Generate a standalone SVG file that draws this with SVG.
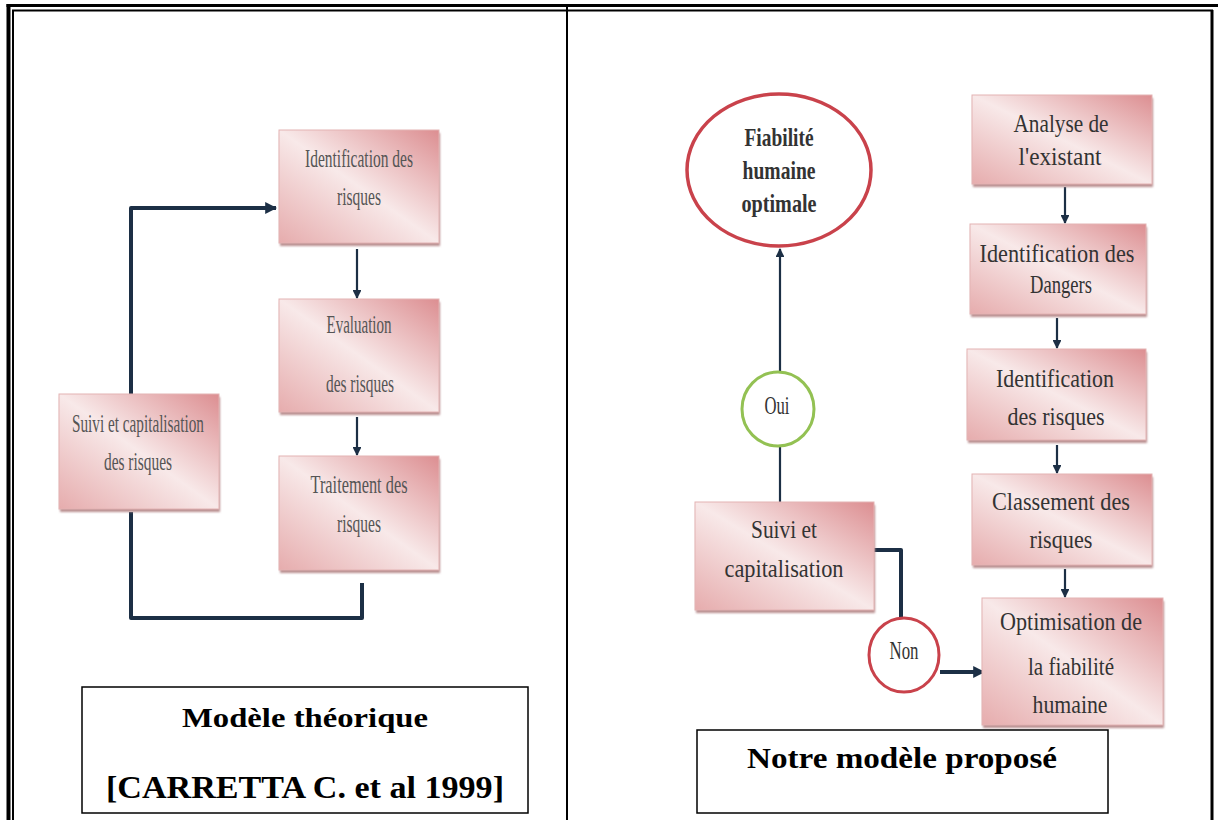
<svg xmlns="http://www.w3.org/2000/svg" width="1218" height="820" viewBox="0 0 1218 820">
<style>
.box{fill:url(#pink);stroke:#e3b3b3;stroke-width:1}
.shadow{fill:#b98f90;filter:url(#blur)}
.lt{font-family:"Liberation Serif",serif;font-size:25px;fill:#555;text-anchor:middle}
.rt{font-family:"Liberation Serif",serif;font-size:26px;fill:#333;text-anchor:middle}
.cap{font-family:"Liberation Serif",serif;font-weight:bold;fill:#000;text-anchor:middle}
.thin{stroke:#1c2f45;stroke-width:2.2;fill:none}
.thick{stroke:#1c2f45;stroke-width:4;fill:none;stroke-linejoin:round}
.frame{stroke:#000;fill:none}
</style>
<defs>
<linearGradient id="pink" x1="1" y1="0" x2="0" y2="1">
<stop offset="0" stop-color="#dc8e91"/>
<stop offset="0.5" stop-color="#f8e9e9"/>
<stop offset="1" stop-color="#e6acad"/>
</linearGradient>
<filter id="blur" x="-10%" y="-10%" width="120%" height="130%"><feGaussianBlur stdDeviation="1.2"/></filter>
<marker id="ah" viewBox="0 0 10 10" refX="9" refY="5" markerWidth="4" markerHeight="4" orient="auto" markerUnits="strokeWidth">
<path d="M0,0 L10,5 L0,10 z" fill="#1c2f45"/>
</marker>
<marker id="ahk" viewBox="0 0 10 10" refX="9" refY="5" markerWidth="3" markerHeight="3" orient="auto" markerUnits="strokeWidth">
<path d="M0,0 L10,5 L0,10 z" fill="#1c2f45"/>
</marker>
</defs>
<rect width="1218" height="820" fill="#fff"/>
<g id="frame">
<line class="frame" x1="8.5" y1="4" x2="8.5" y2="820" stroke-width="4"/>
<line class="frame" x1="6.5" y1="5.5" x2="1218" y2="5.5" stroke-width="3"/>
<line class="frame" x1="13" y1="10" x2="13" y2="820" stroke-width="2"/>
<line class="frame" x1="12" y1="10.5" x2="1213" y2="10.5" stroke-width="2"/>
<line class="frame" x1="1212" y1="10" x2="1212" y2="820" stroke-width="3"/>
<line class="frame" x1="567" y1="5" x2="567" y2="820" stroke-width="2"/>
</g>
<g id="connectors">
<path class="thick" d="M131,394 V208 H276" marker-end="url(#ahk)"/>
<path class="thick" d="M131,512 V618 H362 V583"/>
<line class="thin" x1="357" y1="249" x2="357" y2="298" marker-end="url(#ah)"/>
<line class="thin" x1="357" y1="417" x2="357" y2="455" marker-end="url(#ah)"/>
<line class="thin" x1="780" y1="372" x2="780" y2="249" marker-end="url(#ah)"/>
<line class="thin" x1="780" y1="446" x2="780" y2="502"/>
<path class="thick" d="M874,550 H901 V618"/>
<line class="thick" x1="940" y1="672" x2="984" y2="672" marker-end="url(#ahk)"/>
<line class="thin" x1="1065" y1="187" x2="1065" y2="223" marker-end="url(#ah)"/>
<line class="thin" x1="1057" y1="318" x2="1057" y2="348" marker-end="url(#ah)"/>
<line class="thin" x1="1057" y1="445" x2="1057" y2="473" marker-end="url(#ah)"/>
<line class="thin" x1="1065" y1="569" x2="1065" y2="597" marker-end="url(#ah)"/>
</g>
<g id="n-ident-l">
<rect class="shadow" x="280" y="133" width="160" height="113"/>
<rect class="box" x="279" y="130" width="160" height="113"/>
<text class="lt" x="359" y="167" textLength="108" lengthAdjust="spacingAndGlyphs">Identification des</text>
<text class="lt" x="359" y="205" textLength="44" lengthAdjust="spacingAndGlyphs">risques</text>
</g>
<g id="n-eval-l">
<rect class="shadow" x="280" y="302" width="160" height="113"/>
<rect class="box" x="279" y="299" width="160" height="113"/>
<text class="lt" x="359" y="333" textLength="65" lengthAdjust="spacingAndGlyphs">Evaluation</text>
<text class="lt" x="360" y="392" textLength="68" lengthAdjust="spacingAndGlyphs">des risques</text>
</g>
<g id="n-trait-l">
<rect class="shadow" x="280" y="459" width="160" height="114"/>
<rect class="box" x="279" y="456" width="160" height="114"/>
<text class="lt" x="359" y="493" textLength="97" lengthAdjust="spacingAndGlyphs">Traitement  des</text>
<text class="lt" x="359" y="532" textLength="44" lengthAdjust="spacingAndGlyphs">risques</text>
</g>
<g id="n-suivi-l">
<rect class="shadow" x="60" y="397" width="160" height="115"/>
<rect class="box" x="59" y="394" width="160" height="115"/>
<text class="lt" x="138" y="432" textLength="132" lengthAdjust="spacingAndGlyphs">Suivi et capitalisation</text>
<text class="lt" x="138" y="470" textLength="68" lengthAdjust="spacingAndGlyphs">des risques</text>
</g>
<g id="cap-l">
<rect x="82" y="687" width="446" height="126" fill="#fff" stroke="#000" stroke-width="1.5"/>
<text class="cap" x="305" y="727" font-size="28" textLength="246" lengthAdjust="spacingAndGlyphs">Modèle théorique</text>
<text class="cap" x="305" y="798" font-size="31" textLength="398" lengthAdjust="spacingAndGlyphs">[CARRETTA C. et al 1999]</text>
</g>
<g id="n-fiab">
<ellipse cx="779" cy="170" rx="92" ry="76" fill="#fff" stroke="#c9424b" stroke-width="3.5"/>
<text class="rt" x="779" y="146" font-size="20" font-weight="bold" textLength="69" lengthAdjust="spacingAndGlyphs">Fiabilité</text>
<text class="rt" x="779" y="179" font-size="20" font-weight="bold" textLength="73" lengthAdjust="spacingAndGlyphs">humaine</text>
<text class="rt" x="779" y="212" font-size="20" font-weight="bold" textLength="75" lengthAdjust="spacingAndGlyphs">optimale</text>
</g>
<g id="n-oui">
<ellipse cx="778" cy="409" rx="36" ry="37" fill="#fff" stroke="#93c153" stroke-width="3"/>
<text class="rt" x="777" y="414" font-size="16" textLength="25" lengthAdjust="spacingAndGlyphs">Oui</text>
</g>
<g id="n-suivi-r">
<rect class="shadow" x="696" y="505" width="179" height="108"/>
<rect class="box" x="695" y="502" width="179" height="108"/>
<text class="rt" x="784" y="538" textLength="66" lengthAdjust="spacingAndGlyphs">Suivi et</text>
<text class="rt" x="784" y="577" textLength="119" lengthAdjust="spacingAndGlyphs">capitalisation</text>
</g>
<g id="n-non">
<ellipse cx="904" cy="655" rx="35" ry="37" fill="#fff" stroke="#c9424b" stroke-width="3"/>
<text class="rt" x="904" y="659" font-size="16" textLength="29" lengthAdjust="spacingAndGlyphs">Non</text>
</g>
<g id="n-analyse">
<rect class="shadow" x="973" y="98" width="180" height="89"/>
<rect class="box" x="972" y="95" width="180" height="89"/>
<text class="rt" x="1061" y="132" textLength="95" lengthAdjust="spacingAndGlyphs">Analyse de</text>
<text class="rt" x="1060" y="165" textLength="83" lengthAdjust="spacingAndGlyphs">l'existant</text>
</g>
<g id="n-dangers">
<rect class="shadow" x="971" y="227" width="176" height="90"/>
<rect class="box" x="970" y="224" width="176" height="90"/>
<text class="rt" x="1057" y="262" textLength="155" lengthAdjust="spacingAndGlyphs">Identification des</text>
<text class="rt" x="1061" y="293" textLength="62" lengthAdjust="spacingAndGlyphs">Dangers</text>
</g>
<g id="n-ident-r">
<rect class="shadow" x="968" y="352" width="179" height="91"/>
<rect class="box" x="967" y="349" width="179" height="91"/>
<text class="rt" x="1055" y="387" textLength="118" lengthAdjust="spacingAndGlyphs">Identification</text>
<text class="rt" x="1056" y="425" textLength="97" lengthAdjust="spacingAndGlyphs">des risques</text>
</g>
<g id="n-class">
<rect class="shadow" x="973" y="477" width="180" height="91"/>
<rect class="box" x="972" y="474" width="180" height="91"/>
<text class="rt" x="1061" y="510" textLength="138" lengthAdjust="spacingAndGlyphs">Classement des</text>
<text class="rt" x="1061" y="548" textLength="63" lengthAdjust="spacingAndGlyphs">risques</text>
</g>
<g id="n-optim">
<rect class="shadow" x="983" y="601" width="181" height="127"/>
<rect class="box" x="982" y="598" width="181" height="127"/>
<text class="rt" x="1071" y="630" textLength="142" lengthAdjust="spacingAndGlyphs">Optimisation de</text>
<text class="rt" x="1071" y="675" textLength="86" lengthAdjust="spacingAndGlyphs">la fiabilité</text>
<text class="rt" x="1070" y="713" textLength="75" lengthAdjust="spacingAndGlyphs">humaine</text>
</g>
<g id="cap-r">
<rect x="697" y="730" width="411" height="83" fill="#fff" stroke="#000" stroke-width="1.5"/>
<text class="cap" x="902" y="768" font-size="29" textLength="310" lengthAdjust="spacingAndGlyphs">Notre modèle proposé</text>
</g>
</svg>
